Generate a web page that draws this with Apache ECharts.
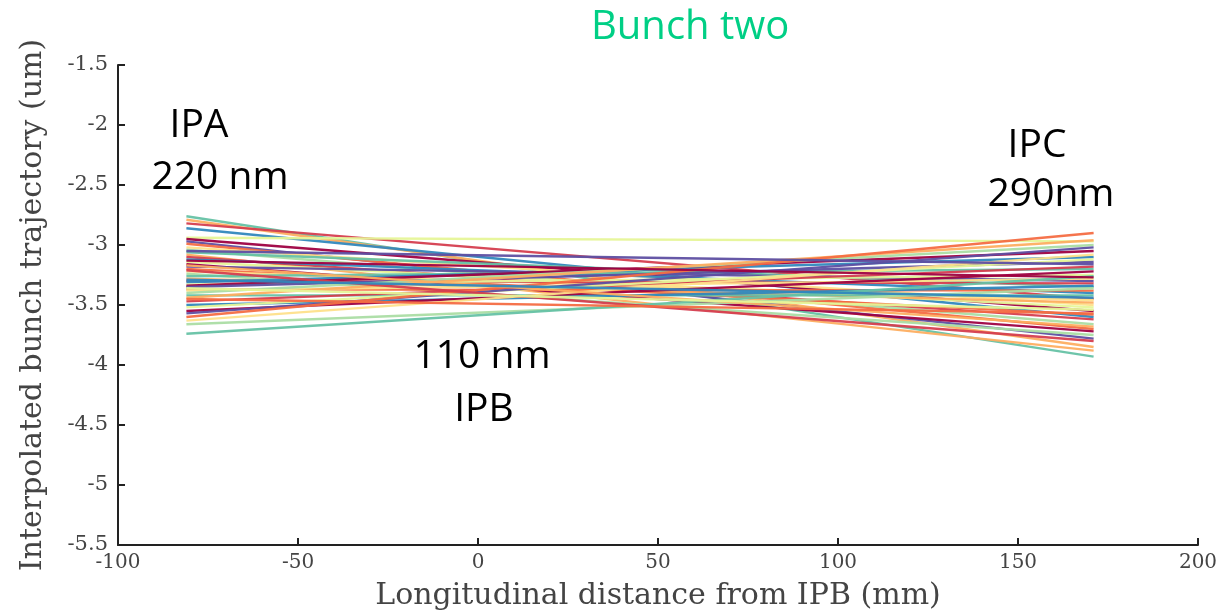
<!DOCTYPE html>
<html lang="en">
<head>
    <meta charset="UTF-8">
    <title>Bunch two</title>
    <script src="https://cdn.jsdelivr.net/npm/echarts@6/dist/echarts.min.js"></script>
    <style>
        html, body { margin: 0; padding: 0; background: #fff; }
        #main { width: 1232px; height: 616px; }
    </style>
</head>
<body>
    <div id="main"></div>
    <script>
        // positions of IPA and IPC along the beam (mm)
        var ipX = [-81, 171];
        // trajectory value at IPA (start) and IPC (end), um
        var startY = [-2.76, -2.79, -2.82, -2.86, -2.94, -2.95, -2.97, -2.99, -3.02, -3.04,
                      -3.06, -3.08, -3.10, -3.12, -3.14, -3.16, -3.18, -3.20, -3.22, -3.24,
                      -3.26, -3.28, -3.30, -3.31, -3.33, -3.34, -3.35, -3.37, -3.38, -3.40,
                      -3.42, -3.44, -3.47, -3.50, -3.52, -3.55, -3.57, -3.60, -3.63, -3.66,
                      -3.74, -3.17, -3.21, -3.29, -3.36, -3.13, -3.05, -3.45];
        var endY   = [-3.93, -3.85, -3.45, -3.60, -2.97, -3.55, -3.78, -3.70, -3.50, -3.66,
                      -3.35, -3.88, -3.62, -3.40, -3.52, -3.72, -3.30, -3.58, -3.46, -3.75,
                      -3.20, -3.48, -3.32, -3.10, -3.25, -3.05, -3.14, -3.38, -3.28, -3.00,
                      -3.42, -2.96, -3.18, -3.34, -3.12, -3.22, -3.02, -2.90, -3.08, -3.36,
                      -3.26, -3.68, -3.80, -3.44, -3.54, -3.27, -3.16, -3.57];
        var xTicks = [-100, -50, 0, 50, 100, 150, 200];
        var yTicks = [-5.5, -5, -4.5, -4, -3.5, -3, -2.5, -2, -1.5];

        // spectral colour map
        var palette = ['#66c2a5', '#fdae61', '#d53e4f', '#3288bd', '#e6f598',
                       '#9e0142', '#5e4fa2', '#f46d43', '#fee08b', '#abdda4'];

        var series = [];
        for (var i = 0; i < startY.length; i++) {
            series.push({
                type: 'line',
                data: [[ipX[0], startY[i]], [ipX[1], endY[i]]],
                showSymbol: false,
                silent: true,
                lineStyle: { width: 2.4, color: palette[i % palette.length], opacity: 0.95 }
            });
        }

        var serif = 'DejaVu Serif';
        function callout(txt, x, y) {
            return {
                type: 'text', x: x, y: y,
                style: {
                    text: txt, fontFamily: 'Open Sans', fontSize: 39, fill: '#000',
                    textAlign: 'center', textVerticalAlign: 'middle',
                    align: 'center', verticalAlign: 'middle'
                }
            };
        }

        var myChart = echarts.init(document.getElementById('main'));
        var option = {
            animation: false,
            title: {
                text: 'Bunch two',
                left: 586, top: 3,
                textStyle: { color: '#00cf85', fontFamily: 'Open Sans', fontSize: 40, fontWeight: 'normal' }
            },
            grid: { left: 118, right: 34, top: 65, bottom: 68 },
            xAxis: {
                type: 'value',
                min: xTicks[0], max: xTicks[xTicks.length - 1], interval: 50,
                name: 'Longitudinal distance from IPB (mm)',
                nameLocation: 'middle', nameGap: 36,
                nameTextStyle: { fontFamily: serif, fontSize: 30, color: '#444' },
                axisLine: { onZero: false, lineStyle: { color: '#222', width: 2 } },
                axisTick: { inside: true, length: 7, lineStyle: { color: '#222', width: 2 } },
                axisLabel: { fontFamily: serif, fontSize: 20, color: '#444', margin: 8 },
                splitLine: { show: false }
            },
            yAxis: {
                type: 'value',
                min: yTicks[0], max: yTicks[yTicks.length - 1], interval: 0.5,
                name: 'Interpolated bunch trajectory (um)',
                nameLocation: 'middle', nameGap: 70,
                nameTextStyle: { fontFamily: serif, fontSize: 30, color: '#444' },
                axisLine: { onZero: false, lineStyle: { color: '#222', width: 2 } },
                axisTick: { inside: true, length: 7, lineStyle: { color: '#222', width: 2 } },
                axisLabel: { fontFamily: serif, fontSize: 21, color: '#444', margin: 10 },
                splitLine: { show: false }
            },
            graphic: [
                callout('IPA', 199, 126),
                callout('220 nm', 220, 178),
                callout('IPC', 1037, 146),
                callout('290nm', 1051, 195),
                callout('110 nm', 482, 357),
                callout('IPB', 484, 410)
            ],
            series: series
        };
        myChart.setOption(option);
        window.onresize = myChart.resize;
    </script>
</body>
</html>
